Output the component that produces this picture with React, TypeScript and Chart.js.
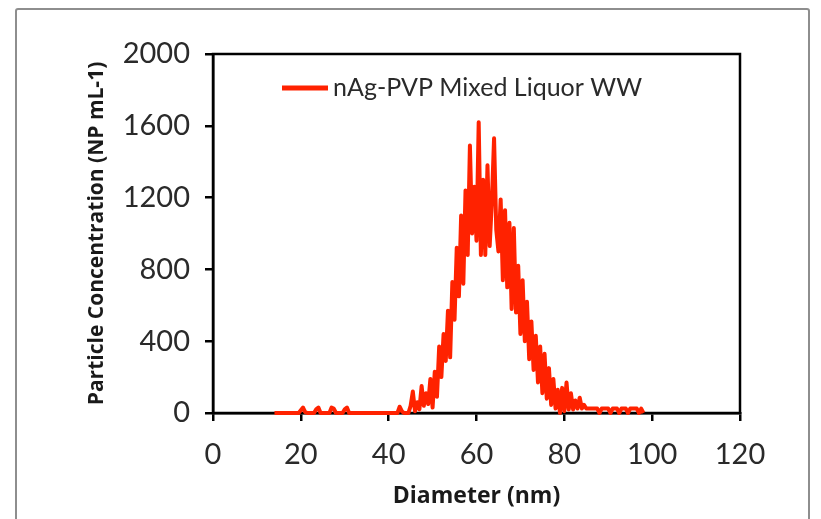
import React, { useEffect, useRef } from "react";
import { Chart, registerables } from "chart.js";

Chart.register(...registerables);

// Series: particle number concentration per 0.5 nm diameter bin, 14.0 – 98.0 nm
const SERIES_LABEL = "nAg-PVP Mixed Liquor WW";
const DIAMETER_START_NM = 14;
const DIAMETER_STEP_NM = 0.5;

const concLowTail = [0, 0, 0, 0, 0, 0, 0, 0, 0, 0, 0, 0]; // 14.0 – 19.5
const concSmallBumps = [15, 30, 5, 0, 0, 0, 0, 20, 30, 0, 0, 0, 0, 0, 30, 25, 0, 0, 0, 0, 20, 30, 0]; // 20.0 – 31.0
const concGap = [0, 0, 0, 0, 0, 0, 0, 0, 0, 0, 0, 0, 0, 0, 0, 0, 0, 0, 0, 0, 0, 0]; // 31.5 – 42.0
const concMain = [
  35, 10, 0, 0, 0, 40, 120, 10, 60, 20, // 42.5 – 47.0
  150, 40, 110, 50, 190, 30, 230, 90, 370, 200, // 47.5 – 52.0
  440, 290, 570, 310, 730, 520, 920, 650, 1100, 720, // 52.5 – 57.0
  1240, 880, 1490, 1000, 1260, 960, 1620, 880, 1300, 880, // 57.5 – 62.0
  1380, 930, 1180, 1530, 1020, 900, 1190, 740, 1130, 700, // 62.5 – 67.0
  1060, 580, 1030, 560, 820, 440, 740, 400, 620, 300, // 67.5 – 72.0
  510, 240, 430, 170, 370, 110, 330, 80, 250, 45, // 72.5 – 77.0
  190, 25, 130, 0, 140, 10, 170, 20, 110, 20, // 77.5 – 82.0
  70, 25, 85, 25, 45, 25, 25, 25, 25, 25, // 82.5 – 87.0
  25, 0, 25, 25, 25, 25, 0, 25, 25, 25, // 87.5 – 92.0
  0, 25, 25, 25, 0, 25, 25, 25, 25, 0, // 92.5 – 97.0
  25, 0, // 97.5 – 98.0
];

const X_TICKS = [0, 20, 40, 60, 80, 100, 120];
const Y_TICKS = [0, 400, 800, 1200, 1600, 2000];

const X_TITLE = "Diameter (nm)";
const Y_TITLE = "Particle Concentration (NP mL-1)";

const LINE_COLOR = "#ff2200";
const TEXT_COLOR = "#2a2a2a";
const TICK_FONT = "Lato, 'Open Sans', sans-serif";
const TITLE_FONT = "'Open Sans', Lato, sans-serif";

const PAGE_W = 821;
const PAGE_H = 519;

const frameAndLegend = {
  id: "frameAndLegend",
  beforeDatasetsDraw(chart: any) {
    const { ctx, chartArea: a } = chart;
    ctx.save();
    ctx.strokeStyle = "#000";
    ctx.lineWidth = 2.5;
    ctx.strokeRect(a.left, a.top, a.right - a.left, a.bottom - a.top);
    ctx.restore();
  },
  afterDatasetsDraw(chart: any) {
    const { ctx } = chart;
    const ds = chart.data.datasets[0];
    const y = 88;
    ctx.save();
    ctx.strokeStyle = ds.borderColor;
    ctx.lineWidth = 5;
    ctx.beginPath();
    ctx.moveTo(282, y);
    ctx.lineTo(328, y);
    ctx.stroke();
    ctx.fillStyle = TEXT_COLOR;
    ctx.font = `25px ${TICK_FONT}`;
    ctx.textBaseline = "middle";
    ctx.textAlign = "left";
    ctx.fillText(ds.label, 333, y);
    ctx.restore();
  },
};

export default function App() {
  const canvasRef = useRef<HTMLCanvasElement | null>(null);

  useEffect(() => {
    const values = [...concLowTail, ...concSmallBumps, ...concGap, ...concMain];
    const points = values.map((v, i) => ({ x: DIAMETER_START_NM + i * DIAMETER_STEP_NM, y: v }));

    const chart = new Chart(canvasRef.current as HTMLCanvasElement, {
      type: "line",
      data: {
        datasets: [
          {
            label: SERIES_LABEL,
            data: points,
            borderColor: LINE_COLOR,
            backgroundColor: LINE_COLOR,
            borderWidth: 4,
            borderJoinStyle: "round",
            borderCapStyle: "butt",
            pointRadius: 0,
            tension: 0,
            clip: false as any,
          },
        ],
      },
      options: {
        animation: false,
        responsive: false,
        devicePixelRatio: 1,
        layout: { padding: { left: 84, right: PAGE_W - 740, top: 54, bottom: 0 } },
        plugins: { legend: { display: false }, tooltip: { enabled: false } },
        scales: {
          x: {
            type: "linear",
            min: 0,
            max: 120,
            afterBuildTicks: (s: any) => {
              s.ticks = X_TICKS.map((v) => ({ value: v }));
            },
            afterFit: (s: any) => {
              s.height = PAGE_H - 413;
            },
            grid: { drawOnChartArea: false, drawTicks: true, tickLength: 8, color: "#000", lineWidth: 2.5 },
            border: { display: true, color: "#000", width: 2.5 },
            ticks: {
              color: TEXT_COLOR,
              font: { family: TICK_FONT, size: 29 },
              padding: 16,
              maxRotation: 0,
              autoSkip: false,
              callback: (v: any) => String(v),
            },
            title: {
              display: true,
              text: X_TITLE,
              color: "#1a1a1a",
              font: { family: TITLE_FONT, size: 23, weight: "bold" },
              padding: { top: 0, bottom: 9 },
            },
          },
          y: {
            type: "linear",
            min: 0,
            max: 2000,
            afterBuildTicks: (s: any) => {
              s.ticks = Y_TICKS.map((v) => ({ value: v }));
            },
            afterFit: (s: any) => {
              s.width = 213 - 84;
            },
            grid: { drawOnChartArea: false, drawTicks: true, tickLength: 8, color: "#000", lineWidth: 2.5 },
            border: { display: true, color: "#000", width: 2.5 },
            ticks: {
              color: TEXT_COLOR,
              font: { family: TICK_FONT, size: 29 },
              padding: 15,
              autoSkip: false,
              callback: (v: any) => String(v),
            },
            title: {
              display: true,
              text: Y_TITLE,
              color: "#1a1a1a",
              font: { family: TITLE_FONT, size: 21, weight: "bold" },
              padding: { top: 0, bottom: 0 },
            },
          },
        },
      },
      plugins: [frameAndLegend],
    });

    return () => chart.destroy();
  }, []);

  return (
    <div
      style={{
        position: "fixed",
        left: 0,
        top: 0,
        width: PAGE_W,
        height: PAGE_H,
        overflow: "hidden",
        background: "#fff",
      }}
    >
      <div
        style={{
          position: "absolute",
          left: 15,
          top: 8,
          width: 795,
          height: 560,
          border: "2px solid #8e8e8e",
          borderRadius: 3,
          boxSizing: "border-box",
        }}
      />
      <canvas
        ref={canvasRef}
        width={PAGE_W}
        height={PAGE_H}
        style={{ position: "absolute", left: 0, top: 0 }}
      />
    </div>
  );
}
